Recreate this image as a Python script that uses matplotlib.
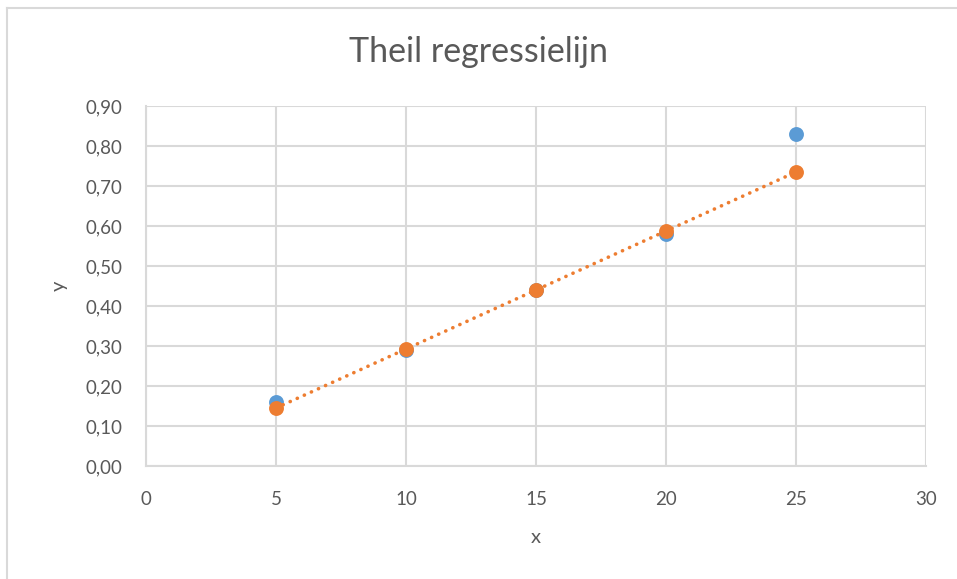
import matplotlib.pyplot as plt
from matplotlib.lines import Line2D

plt.rcParams['font.family'] = ['Lato', 'DejaVu Sans']

# Observed data and the Theil (median-slope) fitted values
x = [5, 10, 15, 20, 25]
y_obs = [0.16, 0.29, 0.44, 0.58, 0.83]
y_theil = [0.145, 0.2925, 0.44, 0.5875, 0.735]

x_ticks = [0, 5, 10, 15, 20, 25, 30]
y_ticks = [0.0, 0.1, 0.2, 0.3, 0.4, 0.5, 0.6, 0.7, 0.8, 0.9]

text_color = '#595959'
grid_color = '#D9D9D9'
blue = '#5B9BD5'
orange = '#ED7D31'

W, H = 957, 579
fig = plt.figure(figsize=(W / 100, H / 100), dpi=100, facecolor='white')
ax = fig.add_axes([146 / W, 1 - 466 / H, (926 - 146) / W, (466 - 106) / H])

# chart frame (top and left edges only show)
fig.add_artist(Line2D([7 / W, 1], [1 - 8 / H, 1 - 8 / H], transform=fig.transFigure,
                      color=grid_color, lw=1.5))
fig.add_artist(Line2D([7 / W, 7 / W], [1 - 8 / H, 0], transform=fig.transFigure,
                      color=grid_color, lw=1.5))

ax.scatter(x, y_obs, s=115, color=blue, zorder=3, linewidths=0)
ax.plot(x, y_theil, linestyle=(0, (0.05, 2.1)), color=orange, lw=2.6,
        dash_capstyle='round', zorder=3)
ax.scatter(x, y_theil, s=115, color=orange, zorder=4, linewidths=0)

ax.set_xlim(0, 30)
ax.set_ylim(0, 0.9)
ax.set_xticks(x_ticks)
ax.set_yticks(y_ticks)
ax.set_xticklabels([str(t) for t in x_ticks])
ax.set_yticklabels([f'{t:.2f}'.replace('.', ',') for t in y_ticks])
ax.tick_params(length=0, labelsize=13.5, labelcolor=text_color)
ax.tick_params(axis='x', pad=18)
ax.tick_params(axis='y', pad=17)

ax.grid(True, color=grid_color, lw=1.5)
ax.set_axisbelow(True)
for side in ['top', 'right']:
    ax.spines[side].set_visible(False)
for side in ['left', 'bottom']:
    ax.spines[side].set_color(grid_color)
    ax.spines[side].set_linewidth(1.5)

ax.set_xlabel('x', fontsize=14.5, color=text_color, labelpad=15)
ax.set_ylabel('y', fontsize=14.5, color=text_color, labelpad=13)

fig.text(0.5, 1 - 52 / H, 'Theil regressielijn', ha='center', va='center',
         fontsize=24.5, color=text_color)

fig.savefig('out.png', dpi=100, facecolor='white')
plt.close(fig)
